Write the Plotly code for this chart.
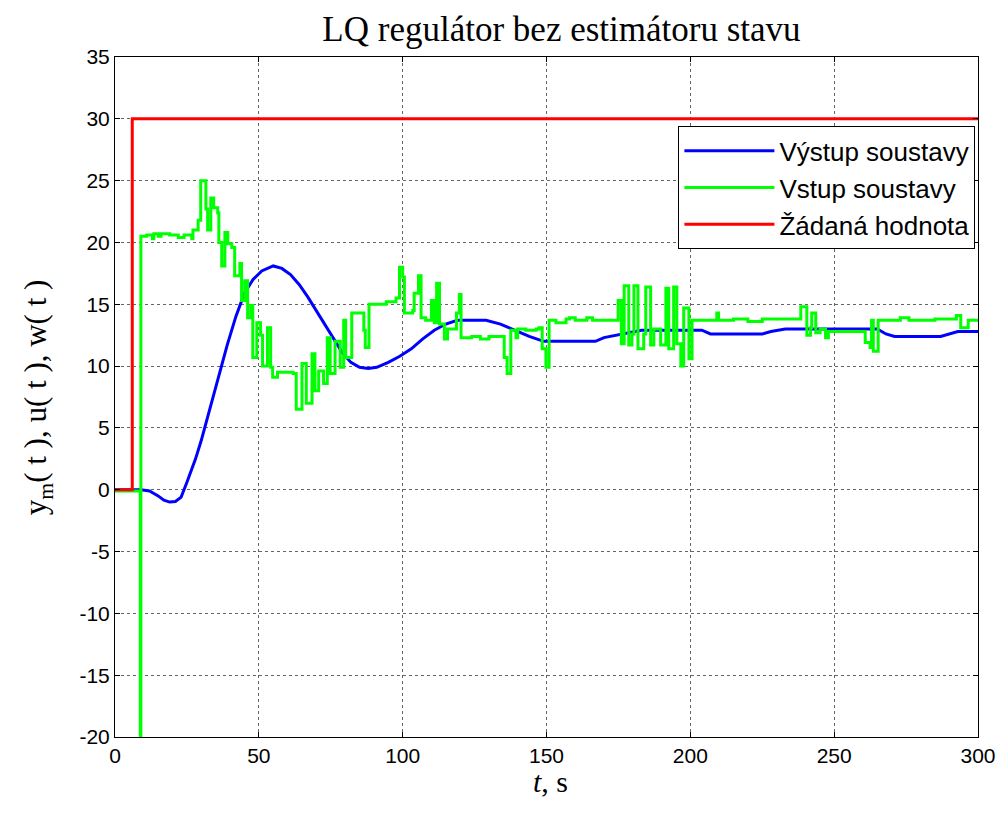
import plotly.graph_objects as go

# ---- data ----
title_text = "LQ regulátor bez estimátoru stavu"
x_label = "<i>t</i>, s"
y_label = "y<sub>m</sub>( t ), u( t ), w( t )"
legend_names = ["Výstup soustavy", "Vstup soustavy", "Žádaná hodnota"]

# Output of the plant (y_m)
t_out = [0, 9, 12, 15, 17, 19, 21, 23, 25, 28, 30, 32, 34, 36, 39, 42, 45, 48, 51, 55,
         58, 61, 64, 67, 70, 73, 76, 79, 82, 85, 88, 91, 95, 99, 103, 107, 111, 115, 119,
         129, 134, 139, 144, 149, 167, 170, 176, 183, 204, 207, 225, 228, 233, 265, 268,
         271, 287, 290, 293, 300]
y_out = [0, 0, -0.1, -0.5, -0.85, -1.0, -0.95, -0.6, 0.6, 2.5, 4.0, 5.7, 7.4, 9.3, 11.7,
         14.0, 15.9, 17.0, 17.7, 18.1, 17.9, 17.4, 16.6, 15.6, 14.5, 13.3, 12.2, 11.1, 10.3,
         9.9, 9.8, 9.9, 10.3, 10.8, 11.4, 12.2, 12.9, 13.4, 13.7, 13.7, 13.4, 12.9, 12.4,
         12.0, 12.0, 12.3, 12.6, 12.9, 12.9, 12.6, 12.6, 12.8, 13.0, 13.0, 12.6, 12.4, 12.4,
         12.6, 12.8, 12.8]

# Input of the plant (u), zero-order hold
t_in = [0, 8.8, 9.0, 11, 13, 13.5, 15, 16, 19, 22, 24, 26.7, 27.1, 28.9, 29.8, 31.6, 32.2,
        33.3, 34.3, 35.7, 36.1, 37.1, 38.2, 39.2, 40.6, 41.6, 43.4, 44.0, 45.1, 46.1, 47.2,
        47.9, 49.3, 50.6, 51.3, 53.0, 54.1, 54.8, 56.5, 61.9, 63.0, 65.0, 66.5, 68.5, 69.5,
        70.8, 72.5, 73.8, 74.8, 76.5, 78.3, 79.5, 80.2, 82.3, 86.5, 87.0, 88.3, 94.3, 97.7,
        98.9, 100.0, 100.6, 103.5, 104.0, 105.5, 106.4, 108.0, 110.0, 111.0, 111.8, 112.8,
        114.5, 115.6, 118.7, 119.7, 120.3, 124, 127, 130, 134.6, 135.3, 136.3, 137.6, 139.4,
        140, 142.8, 146.4, 147.4, 148.5, 149.8, 150.9, 153.3, 156.8, 158, 160, 164, 166,
        174.9, 176, 177, 178.6, 179.7, 180.4, 181.8, 183.8, 184.5, 186.2, 187.3, 189.7,
        191.5, 192.5, 194.2, 195.3, 196.7, 197.7, 199.5, 200.6, 209.2, 209.8, 215, 220,
        225, 233.5, 238.4, 240.5, 241.8, 242.2, 243.6, 245.1, 247, 248, 260.8, 262.5, 263,
        263.6, 265.3, 273, 276, 285, 292.5, 294, 296.6, 300]
u_in = [-0.1, -25, 20.5, 20.6, 20.3, 20.7, 20.5, 20.7, 20.6, 20.4, 20.6, 20.3, 21.0, 21.8,
        25.0, 22.7, 21.0, 23.6, 22.8, 22.4, 20.0, 18.1, 20.8, 19.9, 19.6, 17.3, 18.3, 15.3,
        16.9, 13.9, 14.9, 10.7, 13.5, 12.5, 10.0, 13.1, 9.9, 9.1, 9.5, 9.4, 6.5, 10.2, 7.0,
        11.0, 8.0, 9.6, 8.6, 12.3, 9.4, 12.0, 9.9, 13.7, 10.7, 14.3, 12.9, 11.5, 15.0, 15.2,
        15.5, 18.0, 17.2, 14.3, 14.5, 15.9, 17.3, 13.9, 13.7, 15.3, 13.5, 16.7, 13.4, 12.2,
        13.0, 14.3, 15.8, 12.3, 12.4, 12.2, 12.4, 12.4, 10.7, 9.4, 12.9, 12.3, 13.0, 12.9,
        13.0, 13.1, 11.4, 9.9, 13.7, 13.5, 13.8, 13.9, 13.7, 13.9, 13.7, 15.3, 11.8, 16.5,
        11.7, 12.6, 16.5, 11.4, 12.6, 16.4, 11.7, 13.0, 11.7, 16.3, 11.4, 16.4, 11.8, 10.0,
        14.7, 10.6, 13.7, 14.3, 13.7, 13.8, 13.6, 13.8, 13.8, 14.8, 12.5, 13.1, 14.3, 12.7,
        13.0, 12.3, 12.8, 11.9, 11.5, 13.7, 11.2, 13.7, 13.9, 13.7, 13.8, 14.1, 13.1, 13.7,
        13.6]

# Reference (w)
t_ref = [0, 6, 300]
w_ref = [0, 30, 30]

x_ticks = [0, 50, 100, 150, 200, 250, 300]
y_ticks = [-20, -15, -10, -5, 0, 5, 10, 15, 20, 25, 30, 35]
y_ticklabels = ["-20", "-15", "-10", "-5", "0", "5", "10", "15", "20", "25", "30", "35"]

# ---- figure ----
fig = go.Figure()
fig.add_trace(go.Scatter(x=t_out, y=y_out, mode="lines", name=legend_names[0],
                         line=dict(color="#0000FF", width=3)))
fig.add_trace(go.Scatter(x=t_in, y=u_in, mode="lines", name=legend_names[1],
                         line=dict(color="#00FF00", width=3, shape="hv")))
fig.add_trace(go.Scatter(x=t_ref, y=w_ref, mode="lines", name=legend_names[2],
                         line=dict(color="#FF0000", width=3, shape="hv")))

axis_common = dict(showline=True, linecolor="black", linewidth=1, mirror="ticks",
                   ticks="inside", ticklen=5, tickcolor="black",
                   showgrid=True, gridcolor="#666666", griddash="dot", gridwidth=1,
                   zeroline=False,
                   tickfont=dict(family="Liberation Sans, Arial", size=21, color="black"))

serif = "Liberation Serif, Times New Roman"

fig.update_layout(
    width=1008, height=817,
    paper_bgcolor="white", plot_bgcolor="white",
    margin=dict(l=115, r=28, t=57, b=80),
    title=dict(text=title_text, x=0.557, xanchor="center", y=0.965, yanchor="middle",
               font=dict(family=serif, size=35, color="black")),
    xaxis=dict(range=[0, 300], tickvals=x_ticks, **axis_common),
    yaxis=dict(range=[-20, 35], tickvals=y_ticks, ticktext=y_ticklabels, **axis_common),
    legend=dict(x=0.997, xanchor="right", y=0.898, yanchor="top",
                bgcolor="white", bordercolor="black", borderwidth=1,
                font=dict(family="Liberation Sans, Arial", size=26, color="black"),
                itemwidth=90, tracegroupgap=0),
    showlegend=True,
)

fig.add_annotation(text=x_label, xref="paper", yref="paper", x=0.505, y=-0.066,
                   xanchor="center", yanchor="middle", showarrow=False,
                   font=dict(family=serif, size=30, color="black"))
fig.add_annotation(text=y_label, xref="paper", yref="paper", x=-0.089, y=0.5,
                   xanchor="center", yanchor="middle", textangle=-90, showarrow=False,
                   font=dict(family=serif, size=31, color="black"))

fig.write_html("out.html")
